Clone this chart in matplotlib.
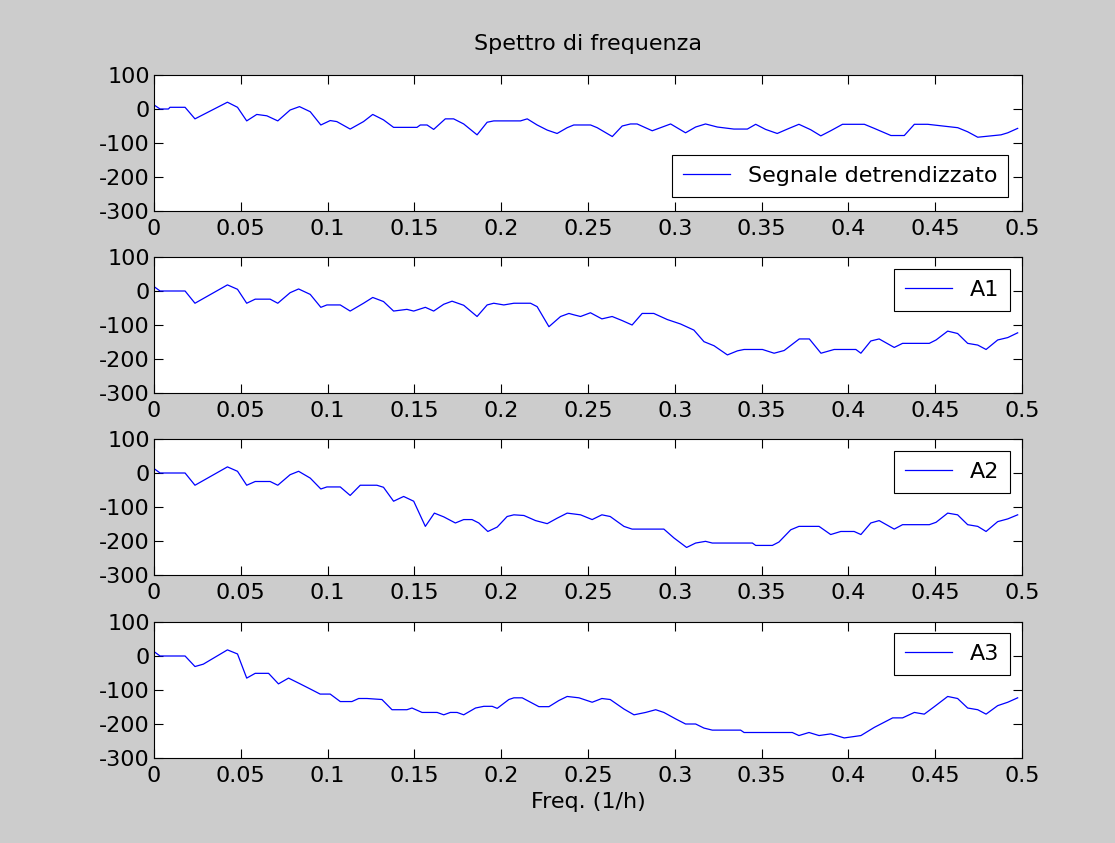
import numpy as np
import matplotlib
matplotlib.use("Agg")
import matplotlib.pyplot as plt

# frequency (1/h) and spectrum values
f_det = [0.0, 0.0035, 0.0083, 0.0092, 0.0179, 0.0236, 0.0423, 0.0481, 0.0534, 0.0592,
         0.065, 0.0713, 0.0784, 0.0838, 0.09, 0.0961, 0.1015, 0.1053, 0.113, 0.1207,
         0.126, 0.1322, 0.138, 0.1515, 0.1534, 0.1573, 0.1611, 0.1678, 0.1726, 0.1784,
         0.1861, 0.1919, 0.1957, 0.2111, 0.215, 0.2207, 0.2265, 0.2322, 0.238, 0.2418,
         0.2515, 0.2553, 0.264, 0.2697, 0.2745, 0.2783, 0.287, 0.2976, 0.3062, 0.312,
         0.3177, 0.3245, 0.334, 0.3418, 0.3466, 0.3523, 0.359, 0.3658, 0.3715, 0.3783,
         0.3841, 0.3898, 0.3966, 0.4092, 0.4149, 0.4245, 0.4322, 0.438, 0.4457, 0.463,
         0.4687, 0.4745, 0.4879, 0.4918, 0.4975]
y_det = [12, 0, 0, 5, 5, -29, 20, 5, -35, -16,
         -20, -35, -3, 7, -8, -47, -34, -37, -59, -37,
         -16, -32, -54, -54, -47, -47, -60, -29, -29, -44,
         -76, -39, -35, -35, -29, -47, -62, -72, -55, -47,
         -47, -55, -81, -50, -44, -44, -64, -44, -70, -53,
         -44, -53, -59, -59, -45, -60, -72, -57, -45, -61,
         -79, -64, -45, -45, -57, -78, -78, -45, -45, -55,
         -67, -83, -76, -70, -57]

f_a1 = [0.0, 0.0035, 0.0179, 0.0236, 0.0423, 0.0481, 0.0534, 0.0583, 0.0669, 0.0713,
        0.0784, 0.0833, 0.09, 0.0961, 0.0996, 0.1073, 0.113, 0.1207, 0.126, 0.1322,
        0.138, 0.1457, 0.1496, 0.1563, 0.1611, 0.1669, 0.1717, 0.1784, 0.1861, 0.1919,
        0.1957, 0.2015, 0.2073, 0.2169, 0.2207, 0.2275, 0.2342, 0.239, 0.2418, 0.2457,
        0.2514, 0.258, 0.2639, 0.2697, 0.2754, 0.2812, 0.2879, 0.2957, 0.3033, 0.311,
        0.3168, 0.3226, 0.3303, 0.3361, 0.3399, 0.3505, 0.3572, 0.363, 0.3717, 0.3775,
        0.3842, 0.3918, 0.4043, 0.4072, 0.4129, 0.4177, 0.4264, 0.4312, 0.4466, 0.4505,
        0.4572, 0.4629, 0.4687, 0.4745, 0.4793, 0.486, 0.4918, 0.4975]
y_a1 = [13, 0, 0, -36, 18, 5, -36, -24, -24, -36,
        -5, 6, -10, -48, -41, -41, -59, -36, -19, -31,
        -59, -54, -59, -48, -59, -39, -30, -42, -75, -41,
        -36, -41, -36, -36, -46, -105, -75, -66, -70, -75,
        -64, -82, -75, -87, -100, -66, -66, -84, -97, -115,
        -149, -161, -188, -176, -172, -172, -183, -175, -141, -141,
        -183, -172, -172, -183, -147, -141, -166, -154, -154, -144,
        -118, -125, -154, -159, -172, -144, -137, -123]

f_a2 = [0.0, 0.0035, 0.0179, 0.0236, 0.0423, 0.0481, 0.0534, 0.0583, 0.0669, 0.0713,
        0.0784, 0.0833, 0.09, 0.0961, 0.0996, 0.1073, 0.113, 0.1188, 0.1284, 0.1322,
        0.138, 0.1438, 0.1496, 0.1563, 0.1615, 0.1669, 0.1736, 0.1784, 0.1832, 0.1871,
        0.1923, 0.1977, 0.2034, 0.2073, 0.2131, 0.2198, 0.2265, 0.2322, 0.238, 0.2457,
        0.2524, 0.258, 0.2628, 0.2707, 0.2754, 0.2937, 0.2995, 0.3068, 0.312, 0.3177,
        0.3216, 0.3447, 0.3466, 0.3562, 0.36, 0.3668, 0.3715, 0.3831, 0.3898, 0.3956,
        0.4033, 0.4072, 0.4129, 0.4177, 0.4264, 0.4312, 0.4466, 0.4505, 0.4572, 0.4629,
        0.4687, 0.4745, 0.4793, 0.486, 0.4918, 0.4975]
y_a2 = [13, 0, 0, -36, 18, 5, -36, -25, -25, -36,
        -5, 5, -15, -47, -41, -41, -66, -36, -36, -42,
        -83, -69, -83, -157, -118, -129, -147, -137, -137, -147,
        -172, -159, -128, -123, -125, -140, -149, -133, -118, -123,
        -137, -123, -128, -157, -165, -165, -191, -219, -206, -201,
        -206, -206, -213, -213, -203, -167, -157, -157, -181, -172,
        -172, -181, -147, -140, -165, -152, -152, -145, -118, -123,
        -152, -157, -172, -143, -135, -123]

f_a3 = [0.0, 0.0035, 0.0179, 0.0236, 0.0284, 0.0423, 0.0481, 0.0534, 0.0583, 0.066,
        0.0717, 0.0775, 0.0842, 0.09, 0.0957, 0.1015, 0.1073, 0.114, 0.1179, 0.1227,
        0.1313, 0.1371, 0.1457, 0.1486, 0.1544, 0.1631, 0.1669, 0.1707, 0.1746, 0.1784,
        0.1852, 0.19, 0.1948, 0.1977, 0.2044, 0.2073, 0.2121, 0.2169, 0.2217, 0.2275,
        0.2332, 0.238, 0.2448, 0.2524, 0.258, 0.2628, 0.2707, 0.2765, 0.2832, 0.289,
        0.2937, 0.3005, 0.3062, 0.312, 0.3168, 0.3216, 0.3379, 0.3399, 0.3677, 0.3715,
        0.3773, 0.3831, 0.3898, 0.3976, 0.4072, 0.4149, 0.4255, 0.4312, 0.438, 0.4437,
        0.4495, 0.4572, 0.4629, 0.4687, 0.4745, 0.4793, 0.486, 0.4918, 0.4975]
y_a3 = [13, 0, 0, -31, -24, 18, 6, -65, -51, -51,
        -82, -65, -82, -97, -112, -112, -134, -134, -125, -125,
        -128, -158, -158, -153, -166, -166, -173, -166, -166, -173,
        -153, -148, -148, -154, -128, -123, -123, -136, -149, -149,
        -131, -119, -123, -136, -125, -128, -156, -173, -166, -158,
        -166, -185, -200, -200, -212, -218, -218, -225, -225, -234,
        -225, -234, -229, -241, -234, -210, -182, -182, -166, -171,
        -149, -119, -125, -153, -158, -171, -146, -136, -123]

series = [(f_det, y_det, "Segnale detrendizzato"),
          (f_a1, y_a1, "A1"),
          (f_a2, y_a2, "A2"),
          (f_a3, y_a3, "A3")]

plt.rcParams['font.family'] = ['DejaVu Sans']
plt.rcParams['axes.unicode_minus'] = False
fs = 16

W, H = 1115, 843
fig = plt.figure(figsize=(W / 100, H / 100), dpi=100, facecolor="#cccccc")

left, width = 154 / W, 868 / W
tops = [75, 257, 439, 622]
h_px = 136
# legend anchors in axes fraction (right/top for A*, right/bottom for first)
anchors = [(0.984, 0.103), (0.986, 0.912), (0.986, 0.912), (0.986, 0.919)]

for i, (f, y, name) in enumerate(series):
    ax = fig.add_axes([left, 1 - (tops[i] + h_px) / H, width, h_px / H])
    ax.set_facecolor("white")
    ax.plot(f, y, color=(0, 0, 1), lw=0.9, label=name)
    ax.set_xlim(0, 0.5)
    ax.set_ylim(-300, 100)
    ax.set_xticks(np.arange(0, 0.51, 0.05))
    ax.set_xticklabels(["0", "0.05", "0.1", "0.15", "0.2", "0.25",
                        "0.3", "0.35", "0.4", "0.45", "0.5"])
    ax.set_yticks([-300, -200, -100, 0, 100])
    ax.tick_params(direction="in", length=6.3, width=0.8, top=True, right=True,
                   labelsize=fs, colors="black")
    ax.tick_params(axis="x", pad=6)
    ax.tick_params(axis="y", pad=3)
    for s in ax.spines.values():
        s.set_linewidth(0.8)
        s.set_color("black")
    leg = ax.legend(loc="lower right" if i == 0 else "upper right",
                    bbox_to_anchor=anchors[i], borderaxespad=0,
                    fontsize=fs, handlelength=2.1, fancybox=False,
                    framealpha=1, edgecolor="black", borderpad=0.5,
                    handletextpad=0.8)
    leg.get_frame().set_linewidth(0.8)

cx = left + width / 2
fig.text(cx, 1 - 44 / H, "Spettro di frequenza", ha="center", va="center", fontsize=fs)
fig.text(cx, 1 - 802 / H, "Freq. (1/h)", ha="center", va="center", fontsize=fs)

fig.savefig("out.png", dpi=100, facecolor=fig.get_facecolor())
